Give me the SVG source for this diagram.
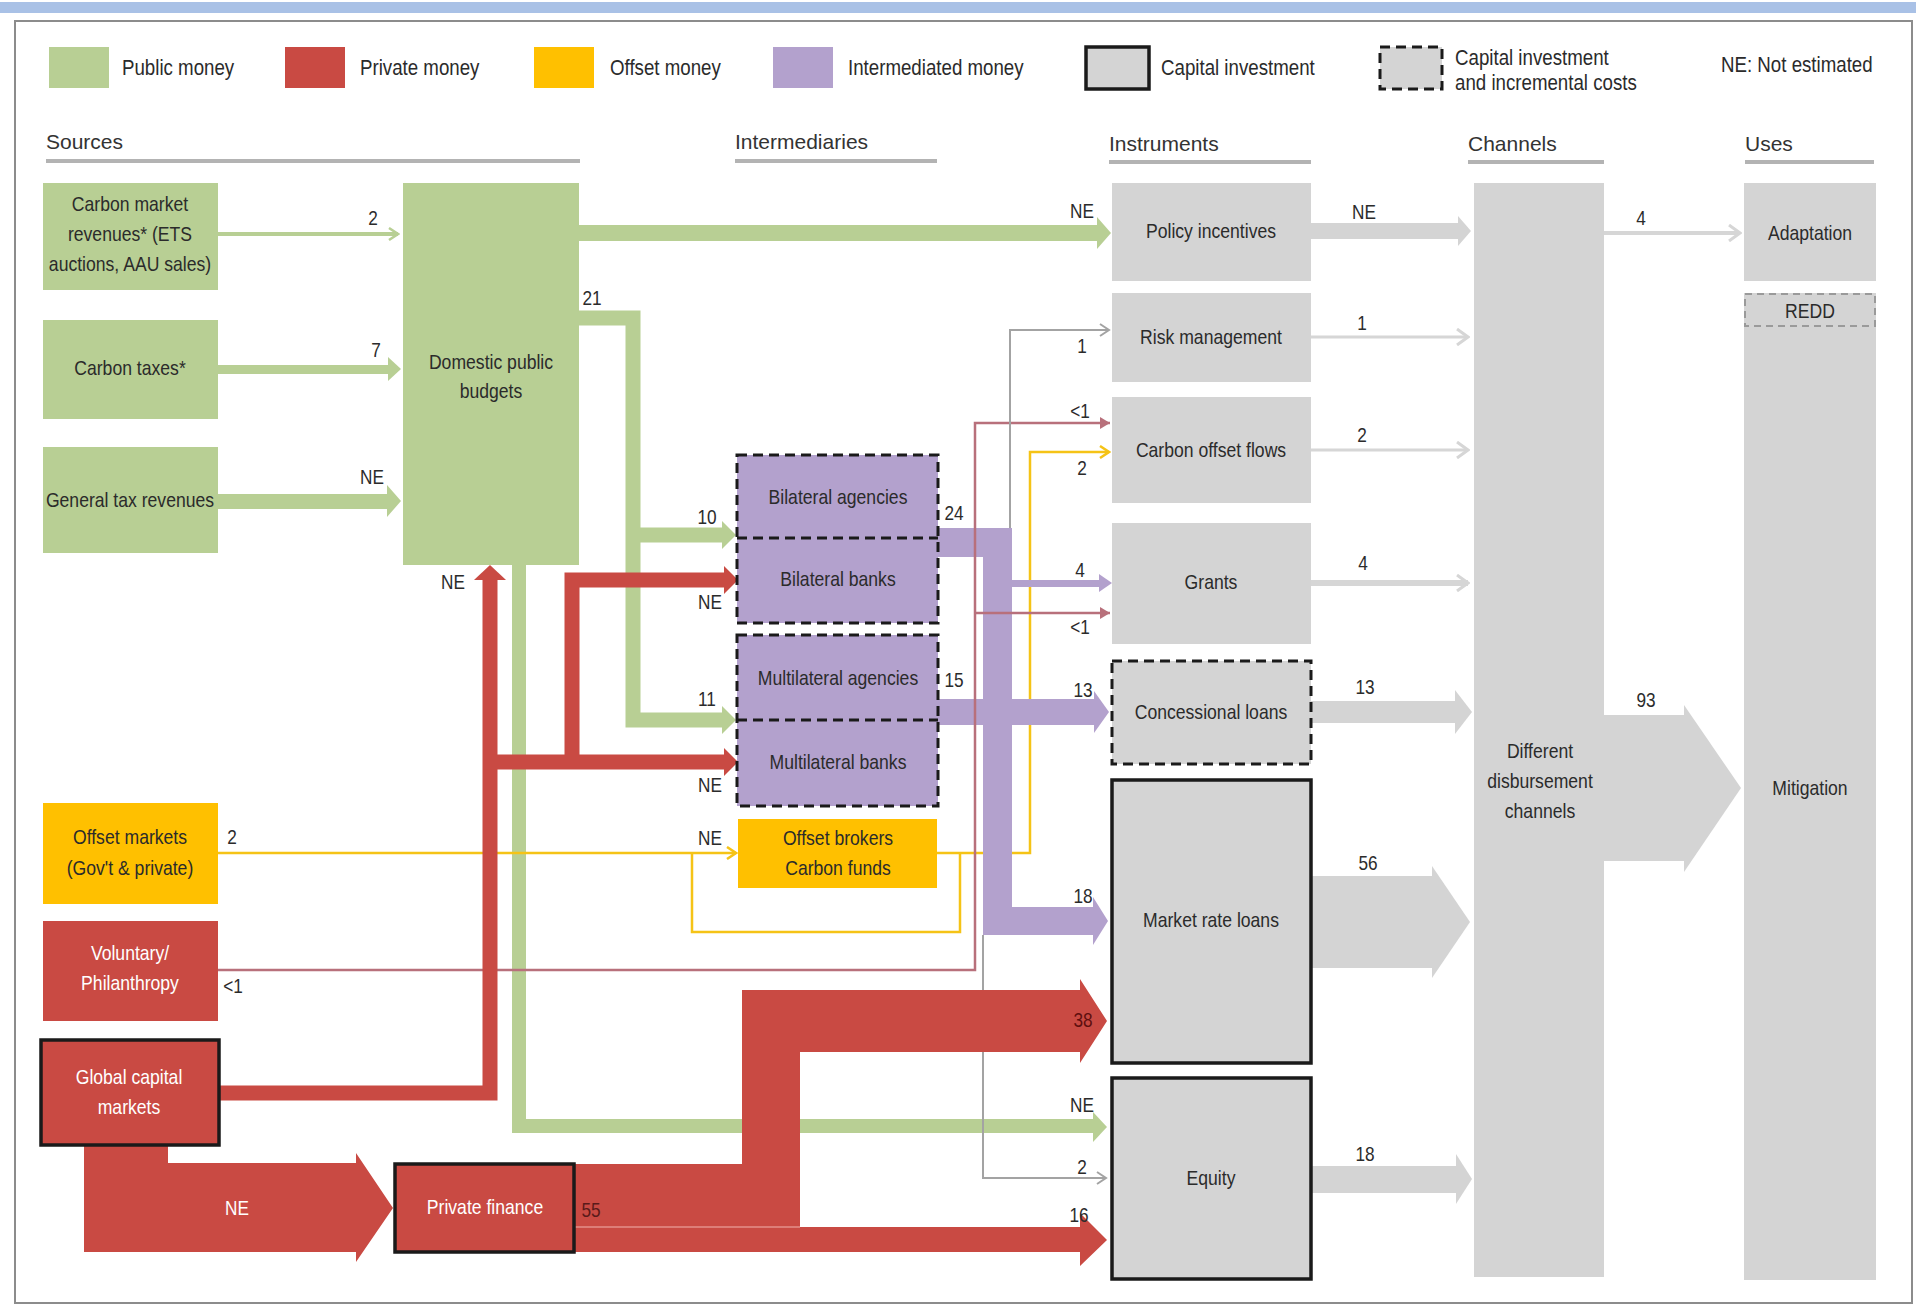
<svg xmlns="http://www.w3.org/2000/svg" width="1916" height="1306" viewBox="0 0 1916 1306">
<defs>
<style>
.t{font-family:"Liberation Sans","Arial",sans-serif;fill:#2b2b2b;}
.n{font-size:20px;text-anchor:middle;dominant-baseline:central;}
.w{fill:#ffffff;}
.lb{font-size:21px;text-anchor:middle;dominant-baseline:central;}
.leg{font-size:22px;dominant-baseline:central;}
.hdr{font-family:"Liberation Sans","DejaVu Sans",sans-serif;font-size:21px;fill:#333333;}
.hl{stroke:#b3b3b3;stroke-width:4;}
.green{fill:#b8cf94;}
.red{fill:#c94a43;}
.yel{fill:#ffc000;}
.pur{fill:#b3a1cd;}
.gry{fill:#d4d4d4;}
.dash{fill:none;stroke:#1a1a1a;stroke-width:3;stroke-dasharray:10 6;}
.solid{fill:none;stroke:#1a1a1a;stroke-width:3.5;}
.sg{fill:none;stroke:#b8cf94;}
.sr{fill:none;stroke:#c94a43;stroke-linejoin:miter;}
.sy{fill:none;stroke:#f5c316;stroke-width:2.5;}
.sm{fill:none;stroke:#b8707b;stroke-width:2.5;}
.sgr{fill:none;stroke:#a3a3a3;stroke-width:2;}
.sl{fill:none;stroke:#d6d6d6;}
</style>
<marker id="mGreen" markerWidth="12" markerHeight="14" refX="10" refY="7" orient="auto" markerUnits="userSpaceOnUse"><path d="M1,1 L10,7 L1,13" fill="none" stroke="#b8cf94" stroke-width="2.5"/></marker>
<marker id="mYel" markerWidth="12" markerHeight="14" refX="10" refY="7" orient="auto" markerUnits="userSpaceOnUse"><path d="M1,1 L10,7 L1,13" fill="none" stroke="#f5c316" stroke-width="2.5"/></marker>
<marker id="mMauve" markerWidth="12" markerHeight="14" refX="11" refY="7" orient="auto" markerUnits="userSpaceOnUse"><path d="M1,1 L11,7 L1,13 Z" fill="#b8707b"/></marker>
<marker id="mGray" markerWidth="12" markerHeight="14" refX="10" refY="7" orient="auto" markerUnits="userSpaceOnUse"><path d="M1,1 L10,7 L1,13" fill="none" stroke="#a3a3a3" stroke-width="2"/></marker>
<marker id="mLight" markerWidth="14" markerHeight="18" refX="12" refY="9" orient="auto" markerUnits="userSpaceOnUse"><path d="M1,1 L12,9 L1,17" fill="none" stroke="#d6d6d6" stroke-width="3"/></marker>
</defs>

<rect x="0" y="0" width="1916" height="1306" fill="#ffffff"/>
<rect x="0" y="2" width="1916" height="11" fill="#a9c1e6"/>
<rect x="15" y="21" width="1897" height="1282" fill="#ffffff" stroke="#8c8c8c" stroke-width="2"/>

<g id="legend">
  <rect class="green" x="49" y="47" width="60" height="41"/>
  <text class="t leg" transform="translate(122,67) scale(.85,1)">Public money</text>
  <rect class="red" x="285" y="47" width="60" height="41"/>
  <text class="t leg" transform="translate(360,67) scale(.85,1)">Private money</text>
  <rect class="yel" x="534" y="47" width="60" height="41"/>
  <text class="t leg" transform="translate(610,67) scale(.85,1)">Offset money</text>
  <rect class="pur" x="773" y="47" width="60" height="41"/>
  <text class="t leg" transform="translate(848,67) scale(.85,1)">Intermediated money</text>
  <rect class="gry" x="1086" y="47" width="63" height="42"/>
  <rect class="solid" x="1086" y="47" width="63" height="42"/>
  <text class="t leg" transform="translate(1161,67) scale(.85,1)">Capital investment</text>
  <rect class="gry" x="1380" y="47" width="62" height="42"/>
  <rect class="dash" x="1380" y="47" width="62" height="42"/>
  <text class="t leg" transform="translate(1455,57) scale(.85,1)">Capital investment</text>
  <text class="t leg" transform="translate(1455,82) scale(.85,1)">and incremental costs</text>
  <text class="t leg" transform="translate(1721,64) scale(.85,1)">NE: Not estimated</text>
</g>

<g id="headers">
  <text class="hdr" x="46" y="149">Sources</text>
  <line class="hl" x1="46" y1="161" x2="580" y2="161"/>
  <text class="hdr" x="735" y="149">Intermediaries</text>
  <line class="hl" x1="735" y1="161" x2="937" y2="161"/>
  <text class="hdr" x="1109" y="151">Instruments</text>
  <line class="hl" x1="1109" y1="162" x2="1311" y2="162"/>
  <text class="hdr" x="1468" y="151">Channels</text>
  <line class="hl" x1="1468" y1="162" x2="1604" y2="162"/>
  <text class="hdr" x="1745" y="151">Uses</text>
  <line class="hl" x1="1745" y1="162" x2="1874" y2="162"/>
</g>

<g id="connectors">
  <!-- green public flows -->
  <line x1="218" y1="234" x2="398" y2="234" stroke="#b8cf94" stroke-width="4" marker-end="url(#mGreen)"/>
  <rect class="green" x="218" y="365" width="170" height="9"/>
  <polygon class="green" points="388,357 401,369 388,381"/>
  <rect class="green" x="218" y="494" width="169" height="15"/>
  <polygon class="green" points="387,485 401,501 387,517"/>
  <rect class="green" x="579" y="225" width="518" height="16"/>
  <polygon class="green" points="1097,217 1111,233 1097,249"/>
  <path class="sg" stroke-width="15" d="M579,318 H633 V720 H722 M633,535 H722"/>
  <polygon class="green" points="722,521 736,535 722,549"/>
  <polygon class="green" points="722,706 736,720 722,734"/>
  <path class="sg" stroke-width="14" d="M519,565 V1126 H1093"/>
  <polygon class="green" points="1093,1112 1107,1127 1093,1142"/>

  <!-- offset flows -->
  <line class="sy" x1="218" y1="853" x2="736" y2="853" marker-end="url(#mYel)"/>
  <polyline class="sy" points="692,853 692,932 960,932 960,853"/>
  <polyline class="sy" points="937,853 1030,853 1030,452 1109,452" marker-end="url(#mYel)"/>

  <!-- intermediated flows -->
  <polygon class="pur" points="938,528 1012,528 1012,907 1093,907 1093,897 1108,921 1093,945 1093,935 983,935 983,557 938,557"/>
  <rect class="pur" x="1012" y="580" width="88" height="7"/>
  <polygon class="pur" points="1099,574 1112,583 1099,592"/>
  <rect class="pur" x="938" y="699" width="156" height="26"/>
  <polygon class="pur" points="1094,691 1109,712 1094,733"/>

  <!-- thin flows -->
  <polyline class="sm" points="218,970 975,970 975,423 1110,423" marker-end="url(#mMauve)"/>
  <line class="sm" x1="975" y1="613" x2="1110" y2="613" marker-end="url(#mMauve)"/>
  <polyline class="sgr" points="1010,528 1010,330 1109,330" marker-end="url(#mGray)"/>
  <polyline class="sgr" points="983,935 983,1178 1106,1178" marker-end="url(#mGray)"/>

  <!-- private flows -->
  <polyline class="sr" stroke-width="15" points="220,1093 490,1093 490,578"/>
  <polygon class="red" points="474,580 490,565 506,580"/>
  <path class="sr" stroke-width="15" d="M483,762 H724 M572,769 V580 H724"/>
  <polygon class="red" points="724,748 738,762 724,776"/>
  <polygon class="red" points="724,566 738,580 724,594"/>
  <polygon class="red" points="84,1145 168,1145 168,1163 356,1163 356,1153 393,1208 356,1262 356,1252 84,1252"/>
  <polygon class="red" points="574,1164 742,1164 742,990 1080,990 1080,979 1107,1021 1080,1063 1080,1052 800,1052 800,1227 1080,1227 1080,1213 1107,1240 1080,1266 1080,1252 574,1252"/>
  <line x1="574" y1="1227" x2="800" y2="1227" stroke="#e3908a" stroke-width="1.5"/>

  <!-- instruments to channels -->
  <rect class="gry" x="1311" y="223" width="147" height="16"/>
  <polygon class="gry" points="1458,216 1471,231 1458,246"/>
  <line class="sl" stroke-width="3" x1="1311" y1="337" x2="1468" y2="337" marker-end="url(#mLight)"/>
  <line class="sl" stroke-width="3" x1="1311" y1="450" x2="1468" y2="450" marker-end="url(#mLight)"/>
  <line class="sl" stroke-width="6" x1="1311" y1="583" x2="1468" y2="583" marker-end="url(#mLight)"/>
  <rect class="gry" x="1311" y="701" width="144" height="22"/>
  <polygon class="gry" points="1455,690 1472,712 1455,734"/>
  <rect class="gry" x="1312" y="876" width="121" height="92"/>
  <polygon class="gry" points="1432,866 1470,922 1432,978"/>
  <rect class="gry" x="1312" y="1166" width="144" height="27"/>
  <polygon class="gry" points="1456,1154 1472,1179 1456,1204"/>
  <line class="sl" stroke-width="4" x1="1604" y1="233" x2="1740" y2="233" marker-end="url(#mLight)"/>
  <rect class="gry" x="1604" y="715" width="81" height="146"/>
  <polygon class="gry" points="1684,705 1741,788 1684,872"/>

  <!-- flow labels -->
  <g class="t lb">
    <text transform="translate(373,218) scale(.82,1)">2</text>
    <text transform="translate(376,350) scale(.82,1)">7</text>
    <text transform="translate(372,477) scale(.82,1)">NE</text>
    <text transform="translate(592,298) scale(.82,1)">21</text>
    <text transform="translate(1082,211) scale(.82,1)">NE</text>
    <text transform="translate(707,517) scale(.82,1)">10</text>
    <text transform="translate(707,699) scale(.82,1)">11</text>
    <text transform="translate(453,582) scale(.82,1)">NE</text>
    <text transform="translate(710,602) scale(.82,1)">NE</text>
    <text transform="translate(710,785) scale(.82,1)">NE</text>
    <text transform="translate(232,837) scale(.82,1)">2</text>
    <text transform="translate(710,838) scale(.82,1)">NE</text>
    <text transform="translate(233,986) scale(.82,1)">&lt;1</text>
    <text transform="translate(1082,346) scale(.82,1)">1</text>
    <text transform="translate(1080,411) scale(.82,1)">&lt;1</text>
    <text transform="translate(1082,468) scale(.82,1)">2</text>
    <text transform="translate(954,513) scale(.82,1)">24</text>
    <text transform="translate(1080,570) scale(.82,1)">4</text>
    <text transform="translate(1080,627) scale(.82,1)">&lt;1</text>
    <text transform="translate(954,680) scale(.82,1)">15</text>
    <text transform="translate(1083,690) scale(.82,1)">13</text>
    <text transform="translate(1083,896) scale(.82,1)">18</text>
    <text transform="translate(1083,1020) scale(.82,1)" fill="#5e0f0f">38</text>
    <text transform="translate(1082,1105) scale(.82,1)">NE</text>
    <text transform="translate(1082,1167) scale(.82,1)">2</text>
    <text transform="translate(1079,1215) scale(.82,1)">16</text>
    <text transform="translate(237,1208) scale(.82,1)" fill="#ffffff">NE</text>
    <text transform="translate(591,1210) scale(.82,1)" fill="#5a1a1a">55</text>
    <text transform="translate(1364,212) scale(.82,1)">NE</text>
    <text transform="translate(1362,323) scale(.82,1)">1</text>
    <text transform="translate(1362,435) scale(.82,1)">2</text>
    <text transform="translate(1363,563) scale(.82,1)">4</text>
    <text transform="translate(1365,687) scale(.82,1)">13</text>
    <text transform="translate(1368,863) scale(.82,1)">56</text>
    <text transform="translate(1365,1154) scale(.82,1)">18</text>
    <text transform="translate(1641,218) scale(.82,1)">4</text>
    <text transform="translate(1646,700) scale(.82,1)">93</text>
  </g>
</g>

<g id="carbon-market">
  <rect class="green" x="43" y="183" width="175" height="107"/>
  <text class="t n" transform="translate(130,204) scale(.88,1)">Carbon market</text>
  <text class="t n" transform="translate(130,234) scale(.88,1)">revenues* (ETS</text>
  <text class="t n" transform="translate(130,264) scale(.88,1)">auctions, AAU sales)</text>
</g>
<g id="carbon-taxes">
  <rect class="green" x="43" y="320" width="175" height="99"/>
  <text class="t n" transform="translate(130,368) scale(.88,1)">Carbon taxes*</text>
</g>
<g id="general-tax">
  <rect class="green" x="43" y="447" width="175" height="106"/>
  <text class="t n" transform="translate(130,500) scale(.88,1)">General tax revenues</text>
</g>
<g id="offset-markets">
  <rect class="yel" x="43" y="803" width="175" height="101"/>
  <text class="t n" transform="translate(130,837) scale(.88,1)">Offset markets</text>
  <text class="t n" transform="translate(130,868) scale(.88,1)">(Gov't &amp; private)</text>
</g>
<g id="voluntary">
  <rect class="red" x="43" y="921" width="175" height="100"/>
  <text class="t n w" transform="translate(130,953) scale(.88,1)">Voluntary/</text>
  <text class="t n w" transform="translate(130,983) scale(.88,1)">Philanthropy</text>
</g>
<g id="global-capital">
  <rect class="red" x="41" y="1040" width="178" height="105"/>
  <rect class="solid" x="41" y="1040" width="178" height="105"/>
  <text class="t n w" transform="translate(129,1077) scale(.88,1)">Global capital</text>
  <text class="t n w" transform="translate(129,1107) scale(.88,1)">markets</text>
</g>
<g id="private-finance">
  <rect class="red" x="395" y="1164" width="179" height="88"/>
  <rect class="solid" x="395" y="1164" width="179" height="88"/>
  <text class="t n w" transform="translate(485,1207) scale(.88,1)">Private finance</text>
</g>
<g id="domestic">
  <rect class="green" x="403" y="183" width="176" height="382"/>
  <text class="t n" transform="translate(491,362) scale(.88,1)">Domestic public</text>
  <text class="t n" transform="translate(491,391) scale(.88,1)">budgets</text>
</g>

<g id="bilateral">
  <rect class="pur" x="737" y="455" width="201" height="168"/>
  <rect class="dash" x="737" y="455" width="201" height="168"/>
  <line class="dash" x1="737" y1="538" x2="938" y2="538"/>
  <text class="t n" transform="translate(838,497) scale(.88,1)">Bilateral agencies</text>
  <text class="t n" transform="translate(838,579) scale(.88,1)">Bilateral banks</text>
</g>
<g id="multilateral">
  <rect class="pur" x="737" y="635" width="201" height="171"/>
  <rect class="dash" x="737" y="635" width="201" height="171"/>
  <line class="dash" x1="737" y1="720" x2="938" y2="720"/>
  <text class="t n" transform="translate(838,678) scale(.88,1)">Multilateral agencies</text>
  <text class="t n" transform="translate(838,762) scale(.88,1)">Multilateral banks</text>
</g>
<g id="offset-brokers">
  <rect class="yel" x="738" y="819" width="199" height="69"/>
  <text class="t n" transform="translate(838,838) scale(.88,1)">Offset brokers</text>
  <text class="t n" transform="translate(838,868) scale(.88,1)">Carbon funds</text>
</g>

<g id="policy-incentives">
  <rect class="gry" x="1112" y="183" width="199" height="98"/>
  <text class="t n" transform="translate(1211,231) scale(.88,1)">Policy incentives</text>
</g>
<g id="risk-management">
  <rect class="gry" x="1112" y="293" width="199" height="89"/>
  <text class="t n" transform="translate(1211,337) scale(.88,1)">Risk management</text>
</g>
<g id="carbon-offset-flows">
  <rect class="gry" x="1112" y="397" width="199" height="106"/>
  <text class="t n" transform="translate(1211,450) scale(.88,1)">Carbon offset flows</text>
</g>
<g id="grants">
  <rect class="gry" x="1112" y="523" width="199" height="121"/>
  <text class="t n" transform="translate(1211,582) scale(.88,1)">Grants</text>
</g>
<g id="concessional-loans">
  <rect class="gry" x="1112" y="661" width="199" height="103"/>
  <rect class="dash" x="1112" y="661" width="199" height="103"/>
  <text class="t n" transform="translate(1211,712) scale(.88,1)">Concessional loans</text>
</g>
<g id="market-rate-loans">
  <rect class="gry" x="1112" y="780" width="199" height="283"/>
  <rect class="solid" x="1112" y="780" width="199" height="283"/>
  <text class="t n" transform="translate(1211,920) scale(.88,1)">Market rate loans</text>
</g>
<g id="equity">
  <rect class="gry" x="1112" y="1078" width="199" height="201"/>
  <rect class="solid" x="1112" y="1078" width="199" height="201"/>
  <text class="t n" transform="translate(1211,1178) scale(.88,1)">Equity</text>
</g>

<g id="channels">
  <rect class="gry" x="1474" y="183" width="130" height="1094"/>
  <text class="t n" transform="translate(1540,751) scale(.88,1)">Different</text>
  <text class="t n" transform="translate(1540,781) scale(.88,1)">disbursement</text>
  <text class="t n" transform="translate(1540,811) scale(.88,1)">channels</text>
</g>

<g id="adaptation">
  <rect class="gry" x="1744" y="183" width="132" height="98"/>
  <text class="t n" transform="translate(1810,233) scale(.88,1)">Adaptation</text>
</g>
<g id="mitigation">
  <rect class="gry" x="1744" y="327" width="132" height="953"/>
  <text class="t n" transform="translate(1810,788) scale(.88,1)">Mitigation</text>
</g>
<g id="redd">
  <rect class="gry" x="1744" y="293" width="132" height="34"/>
  <rect x="1745" y="294" width="130" height="32" fill="none" stroke="#9a9a9a" stroke-width="2" stroke-dasharray="7 5"/>
  <text class="t n" transform="translate(1810,311) scale(.88,1)">REDD</text>
</g>
</svg>
